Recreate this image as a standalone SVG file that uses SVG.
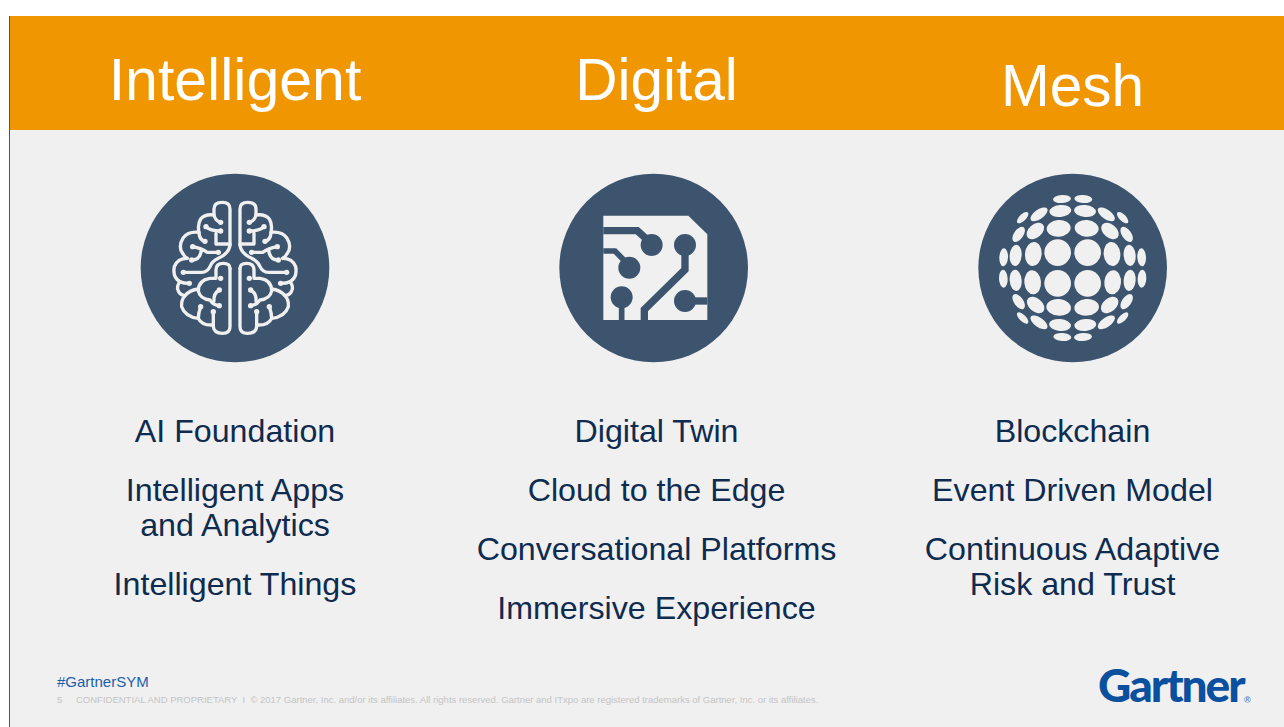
<svg xmlns="http://www.w3.org/2000/svg" xmlns:xlink="http://www.w3.org/1999/xlink" width="1284" height="727" viewBox="0 0 1284 727">
<style>
text{font-family:"Liberation Sans",Arial,sans-serif}
.h{font-size:58.5px;fill:#fff;text-anchor:middle}
.b{font-size:32.200px;fill:#0f2b4f;text-anchor:middle}
.disc{fill:#3d546e}
.br{fill:none;stroke:#f0f0f0;stroke-width:10;stroke-linecap:round;stroke-linejoin:round}
.dot{fill:#f0f0f0}
.tr{fill:none;stroke:#3d546e}
.w{fill:#f0f0f0}
</style>
<defs>
<g id="brainHalf">
<path class="br" d="M300 240V132Q300 112 277 112Q252 112 252 132V150Q256 168 272 172"/>
<path class="br" d="M252 150Q225 146 212 162Q202 178 207 202Q175 198 160 218Q143 245 158 265Q163 275 172 280Q142 280 133 305Q127 338 150 350Q160 355 178 355"/>
<path class="br" d="M150 350Q138 365 145 378Q150 390 165 392Q153 405 155 425Q165 455 205 460Q215 482 250 480"/>
<path class="br" d="M300 240Q298 265 265 280Q245 290 240 305Q232 322 215 322H160"/>
<path class="br" d="M300 237H258V205M228 185Q240 198 272 198"/>
<path class="br" d="M207 202Q208 225 225 229"/>
<path class="br" d="M188 245Q215 250 232 262H265M185 285Q212 285 214 254"/>
<path class="br" d="M300 310Q300 295 280 295Q258 295 258 315V340H240Q205 345 205 378Q210 402 240 405Q250 420 268 422"/>
<path class="br" d="M268 375Q250 385 252 408M165 392Q180 375 205 372M212 425Q205 445 205 460"/>
<path class="br" d="M300 310V485Q300 505 277 505Q252 505 250 485V440"/>
<circle class="dot" cx="272" cy="172" r="8"/><circle class="dot" cx="228" cy="185" r="8"/><circle class="dot" cx="272" cy="198" r="8"/><circle class="dot" cx="225" cy="229" r="8"/><circle class="dot" cx="188" cy="245" r="8"/><circle class="dot" cx="265" cy="262" r="8"/><circle class="dot" cx="185" cy="285" r="8"/><circle class="dot" cx="160" cy="322" r="8"/><circle class="dot" cx="272" cy="340" r="8"/><circle class="dot" cx="178" cy="355" r="8"/><circle class="dot" cx="268" cy="375" r="8"/><circle class="dot" cx="268" cy="422" r="8"/><circle class="dot" cx="250" cy="440" r="8"/><circle class="dot" cx="212" cy="425" r="8"/>
</g>
<g id="ballHalf" class="w">
<ellipse cx="263" cy="263" rx="40" ry="40"/><ellipse cx="266" cy="190" rx="36" ry="25" transform="rotate(-5 266 190)"/><ellipse cx="271" cy="138" rx="33" ry="18" transform="rotate(-5 271 138)"/><ellipse cx="276" cy="102" rx="27" ry="12" transform="rotate(-3 276 102)"/><ellipse cx="196" cy="198" rx="30" ry="20" transform="rotate(-40 196 198)"/><ellipse cx="207" cy="148" rx="30" ry="14" transform="rotate(-35 207 148)"/><ellipse cx="158" cy="158" rx="22" ry="10" transform="rotate(-45 158 158)"/><ellipse cx="146" cy="208" rx="26" ry="14" transform="rotate(-55 146 208)"/><ellipse cx="190" cy="267" rx="25" ry="36" transform="rotate(5 190 267)"/><ellipse cx="137" cy="271" rx="18" ry="32" transform="rotate(5 137 271)"/><ellipse cx="101" cy="277" rx="13" ry="27" transform="rotate(3 101 277)"/>
<ellipse cx="263" cy="355" rx="40" ry="40"/><ellipse cx="266" cy="427" rx="37" ry="25" transform="rotate(5 266 427)"/><ellipse cx="270" cy="480" rx="33" ry="18" transform="rotate(5 270 480)"/><ellipse cx="277" cy="516" rx="27" ry="12" transform="rotate(3 277 516)"/><ellipse cx="197" cy="420" rx="30" ry="20" transform="rotate(40 197 420)"/><ellipse cx="207" cy="472" rx="30" ry="14" transform="rotate(35 207 472)"/><ellipse cx="158" cy="459" rx="22" ry="10" transform="rotate(45 158 459)"/><ellipse cx="146" cy="410" rx="26" ry="14" transform="rotate(55 146 410)"/><ellipse cx="188" cy="352" rx="25" ry="36" transform="rotate(-5 188 352)"/><ellipse cx="137" cy="346" rx="18" ry="32" transform="rotate(-5 137 346)"/><ellipse cx="100" cy="341" rx="13" ry="27" transform="rotate(-3 100 341)"/>
</g>
</defs>
<rect width="1284" height="727" fill="#fff"/>
<rect x="10" y="16" width="1274" height="711" fill="#f0f0f0"/>
<rect x="9" y="16" width="1" height="711" fill="#555"/>
<rect id="band" x="10" y="16" width="1274" height="114" fill="#f09600"/>
<g id="connectors"></g>
<g id="col-intelligent">
<text class="h" x="235" y="100" style="font-size:59px">Intelligent</text>
<g id="icon-brain" transform="translate(130 165) scale(.3333)">
<circle class="disc" cx="315" cy="309" r="283"/>
<use xlink:href="#brainHalf" href="#brainHalf"/>
<use xlink:href="#brainHalf" href="#brainHalf" transform="translate(630 0) scale(-1 1)"/>
</g>
<text class="b" x="235" y="442">AI Foundation</text>
<text class="b" x="235" y="501">Intelligent Apps</text>
<text class="b" x="235" y="536">and Analytics</text>
<text class="b" x="235" y="595">Intelligent Things</text>
</g>
<g id="col-digital">
<text class="h" x="656.500" y="100">Digital</text>
<g id="icon-circuit" transform="translate(550 165) scale(.3333)">
<circle class="disc" cx="311" cy="309" r="283"/>
<path class="w" d="M160 152H415L472 208V465H160Z"/>
<path class="tr" stroke-width="22" d="M160 197H262L292 224"/>
<path class="tr" stroke-width="17" d="M160 258H195L228 292"/>
<path class="tr" stroke-width="17" d="M215 420V465"/>
<path class="tr" stroke-width="22" d="M405 262V314L283 434V465"/>
<path class="tr" stroke-width="22" d="M420 408H472"/>
<g class="disc"><circle cx="305" cy="240" r="33"/><circle cx="238" cy="308" r="33"/><circle cx="215" cy="397" r="33"/><circle cx="405" cy="240" r="33"/><circle cx="405" cy="408" r="33"/></g>
</g>
<text class="b" x="656.500" y="442">Digital Twin</text>
<text class="b" x="656.500" y="501">Cloud to the Edge</text>
<text class="b" x="656.500" y="560">Conversational Platforms</text>
<text class="b" x="656.500" y="619">Immersive Experience</text>
</g>
<g id="col-mesh">
<text class="h" x="1072.500" y="106">Mesh</text>
<g id="icon-mesh" transform="translate(970 165) scale(.3333)">
<circle class="disc" cx="308" cy="309" r="283"/>
<use xlink:href="#ballHalf" href="#ballHalf"/>
<use xlink:href="#ballHalf" href="#ballHalf" transform="translate(616 0) scale(-1 1)"/>
</g>
<text class="b" x="1072.500" y="442">Blockchain</text>
<text class="b" x="1072.500" y="501">Event Driven Model</text>
<text class="b" x="1072.500" y="560">Continuous Adaptive</text>
<text class="b" x="1072.500" y="595">Risk and Trust</text>
</g>
<g id="footer">
<text x="57" y="687" font-size="15" fill="#1c5fa8">#GartnerSYM</text>
<text x="57" y="703" font-size="9.500" fill="#c4c4c4">5</text>
<text x="76" y="703" font-size="9.500" fill="#c4c4c4" xml:space="preserve">CONFIDENTIAL AND PROPRIETARY  I  © 2017 Gartner, Inc. and/or its affiliates. All rights reserved. Gartner and ITxpo are registered trademarks of Gartner, Inc. or its affiliates.</text>
</g>
<g id="logo">
<text x="1098" y="702" font-size="46" font-weight="900" fill="#0b509f" letter-spacing="-2" style="font-family:Lato,'Liberation Sans',sans-serif">Gartner</text>
<text x="1244" y="703" font-size="9" font-weight="700" fill="#5a86b8">®</text>
</g>
</svg>
